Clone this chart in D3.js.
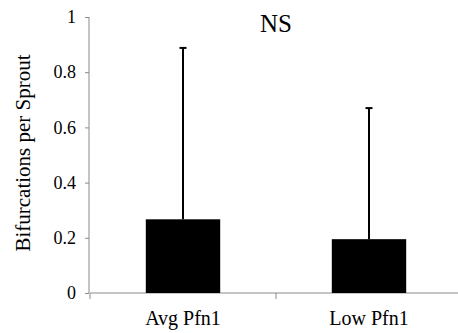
<!DOCTYPE html>
<html>
<head>
<meta charset="utf-8">
<script src="https://cdn.jsdelivr.net/npm/d3@7"></script>
<style>
  body { margin: 0; background: #fff; }
  text { font-family: "Liberation Serif", "Times New Roman", serif; fill: #000; }
</style>
</head>
<body>
<div id="chart"></div>
<script>
// ---------- Data ----------
const categories = ['Avg Pfn1', 'Low Pfn1'];
const means = [0.267, 0.195];
const errors = [0.621, 0.475];          // upper error bar length
const yTicks = [0, 0.2, 0.4, 0.6, 0.8, 1];
const yTickLabels = ['0', '0.2', '0.4', '0.6', '0.8', '1'];
const yTitle = 'Bifurcations per Sprout';
const note = 'NS';

const width = 458, height = 333;
const axisColor = '#8a8a8a';

const svg = d3.select('#chart').append('svg')
  .attr('width', width)
  .attr('height', height);

// scales
const x = d3.scaleBand()
  .domain(categories)
  .range([90, 462])
  .paddingInner(0.6)
  .paddingOuter(0.3);

const y = d3.scaleLinear()
  .domain([0, 1])
  .range([293, 17]);

// y axis
const yAxis = svg.append('g')
  .attr('transform', 'translate(89,0)')
  .call(d3.axisLeft(y)
    .tickValues(yTicks)
    .tickFormat((d, i) => yTickLabels[i])
    .tickSize(4)
    .tickPadding(9));
yAxis.select('.domain').attr('stroke', axisColor).attr('d', `M0,${y(0)}V${y(1)}`);
yAxis.selectAll('.tick line').attr('stroke', axisColor);
yAxis.selectAll('.tick text')
  .style('font-family', '"Liberation Serif", serif')
  .style('font-size', '18px')
  .attr('fill', '#000');

// x axis (ticks at category boundaries)
const gap = x.step() - x.bandwidth();
const bounds = categories.map(c => x(c) - gap / 2).concat([x.range()[1]]);
svg.append('line')
  .attr('x1', x.range()[0]).attr('x2', x.range()[1])
  .attr('y1', y(0)).attr('y2', y(0))
  .attr('stroke', axisColor);
svg.selectAll('.xtick')
  .data(bounds)
  .join('line')
  .attr('class', 'xtick')
  .attr('x1', d => d).attr('x2', d => d)
  .attr('y1', y(0)).attr('y2', y(0) + 6)
  .attr('stroke', axisColor);

svg.selectAll('.xlabel')
  .data(categories)
  .join('text')
  .attr('class', 'xlabel')
  .attr('x', d => x(d) + x.bandwidth() / 2)
  .attr('y', 325)
  .attr('text-anchor', 'middle')
  .style('font-size', '20px')
  .text(d => d);

// bars
svg.selectAll('.bar')
  .data(means)
  .join('rect')
  .attr('class', 'bar')
  .attr('x', (d, i) => x(categories[i]))
  .attr('width', x.bandwidth())
  .attr('y', d => y(d))
  .attr('height', d => y(0) - y(d))
  .attr('fill', '#000');

// error bars (upper only)
const eb = svg.selectAll('.err')
  .data(means)
  .join('g')
  .attr('class', 'err')
  .attr('transform', (d, i) => `translate(${x(categories[i]) + x.bandwidth() / 2},0)`);
eb.append('line')
  .attr('y1', d => y(d))
  .attr('y2', (d, i) => y(d + errors[i]))
  .attr('stroke', '#000')
  .attr('stroke-width', 2);
eb.append('line')
  .attr('x1', -3.5).attr('x2', 3.5)
  .attr('y1', (d, i) => y(d + errors[i]))
  .attr('y2', (d, i) => y(d + errors[i]))
  .attr('stroke', '#000')
  .attr('stroke-width', 2);

// y title
svg.append('text')
  .attr('transform', 'translate(30,153) rotate(-90)')
  .attr('text-anchor', 'middle')
  .style('font-size', '21px')
  .text(yTitle);

// NS annotation
svg.append('text')
  .attr('x', 276)
  .attr('y', 32)
  .attr('text-anchor', 'middle')
  .style('font-size', '25px')
  .text(note);
</script>
</body>
</html>
